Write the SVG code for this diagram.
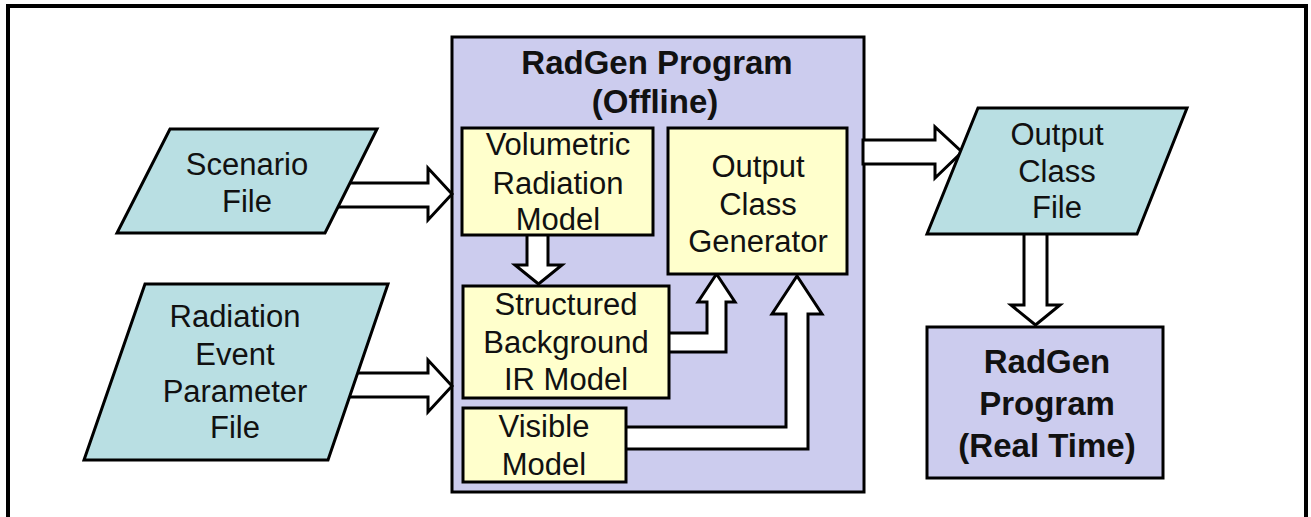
<svg xmlns="http://www.w3.org/2000/svg" width="1311" height="517" viewBox="0 0 1311 517">
<style>
  .frame { fill: #ffffff; stroke: #000; stroke-width: 4; }
  .box { stroke: #000; stroke-width: 3; }
  .prog { fill: #ccccee; }
  .model { fill: #ffffcc; }
  .file { fill: #b9dfe3; stroke: #000; stroke-width: 3; stroke-linejoin: miter; }
  .arrow { fill: #ffffff; stroke: #000; stroke-width: 3; stroke-linejoin: miter; }
  text { font-family: "Liberation Sans", Arial, sans-serif; fill: #111; text-anchor: middle; }
  .t { font-size: 31px; }
  .b { font-size: 33px; font-weight: bold; }
</style>
<rect class="frame" x="8" y="6" width="1298" height="530"/>
<g id="radgen-offline">
  <rect class="box prog" x="452" y="37" width="412" height="455"/>
  <text class="b" x="657" y="74">RadGen Program</text>
  <text class="b" x="655" y="113">(Offline)</text>
</g>
<g id="connectors">
  <polygon class="arrow" points="335,183 428,183 428,168 452,194 428,220 428,207 335,207"/>
  <polygon class="arrow" points="345,373 428,373 428,360 452,386 428,412 428,397 345,397"/>
  <polygon class="arrow" points="863,140 935,140 935,127 962,152 935,178 935,164 863,164"/>
  <polygon class="arrow" points="1024,228 1047,228 1047,305 1060,305 1035.5,325 1011,305 1024,305"/>
  <polygon class="arrow" points="527,232 548,232 548,265 562,265 538.5,284 515,265 527,265"/>
  <polygon class="arrow" points="666,333 707,333 707,302 698,302 716.5,274 735,302 726,302 726,352 666,352"/>
  <polygon class="arrow" points="623,427 786,427 786,314 772,314 797,276 822,314 808,314 808,449 623,449"/>
</g>
<g id="scenario-file">
  <polygon class="file" points="170,129 377,129 325,233 117,233"/>
  <text class="t" x="247" y="175">Scenario</text>
  <text class="t" x="247" y="212">File</text>
</g>
<g id="radiation-event-parameter-file">
  <polygon class="file" points="145,284 388,284 328,460 84,460"/>
  <text class="t" x="235" y="327">Radiation</text>
  <text class="t" x="235" y="365">Event</text>
  <text class="t" x="235" y="402">Parameter</text>
  <text class="t" x="235" y="438">File</text>
</g>
<g id="volumetric-radiation-model">
  <rect class="box model" x="462" y="128" width="191" height="107"/>
  <text class="t" x="558" y="155">Volumetric</text>
  <text class="t" x="558" y="194">Radiation</text>
  <text class="t" x="558" y="230">Model</text>
</g>
<g id="output-class-generator">
  <rect class="box model" x="668" y="128" width="179" height="146"/>
  <text class="t" x="758" y="177">Output</text>
  <text class="t" x="758" y="215">Class</text>
  <text class="t" x="758" y="252">Generator</text>
</g>
<g id="structured-background-ir-model">
  <rect class="box model" x="463" y="286" width="206" height="112"/>
  <text class="t" x="566" y="315">Structured</text>
  <text class="t" x="566" y="353">Background</text>
  <text class="t" x="566" y="390">IR Model</text>
</g>
<g id="visible-model">
  <rect class="box model" x="463" y="408" width="163" height="74"/>
  <text class="t" x="544" y="437">Visible</text>
  <text class="t" x="544" y="475">Model</text>
</g>
<g id="output-class-file">
  <polygon class="file" points="978,108 1187,108 1137,234 927,234"/>
  <text class="t" x="1057" y="145">Output</text>
  <text class="t" x="1057" y="182">Class</text>
  <text class="t" x="1057" y="218">File</text>
</g>
<g id="radgen-realtime">
  <rect class="box prog" x="927" y="327" width="236" height="151"/>
  <text class="b" x="1047" y="373">RadGen</text>
  <text class="b" x="1047" y="415">Program</text>
  <text class="b" x="1047" y="457">(Real Time)</text>
</g>
</svg>
